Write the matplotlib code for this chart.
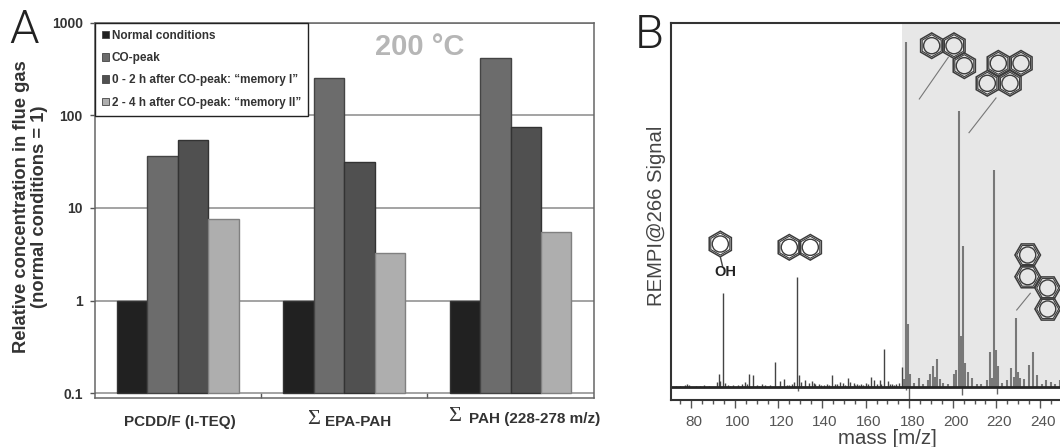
import numpy as np
import matplotlib
matplotlib.use('Agg')
import matplotlib.pyplot as plt
from matplotlib.patches import RegularPolygon, Circle, Patch
from matplotlib.transforms import ScaledTranslation

plt.rcParams['font.family'] = ['Liberation Sans', 'DejaVu Sans']

W, H = 1060, 447

# panel A
categories = ['PCDD/F (I-TEQ)', 'EPA-PAH', 'PAH (228-278 m/z)']
series_names = ['Normal conditions', 'CO-peak',
                '0 - 2 h after CO-peak: \u201cmemory I\u201d',
                '2 - 4 h after CO-peak: \u201cmemory II\u201d']
normal = [1, 1, 1]
co_peak = [36, 250, 420]
memory_1 = [54, 31, 74]
memory_2 = [7.7, 3.3, 5.5]
bar_colors = ['#212121', '#6c6c6c', '#505050', '#aeaeae']
bar_edges = ['#333333', '#444444', '#333333', '#808080']
decades = [0.1, 1, 10, 100, 1000]
decade_labels = ['0.1', '1', '10', '100', '1000']

# panel B, signal is in arbitrary units above the baseline
dark_mz = [73, 75, 77, 78, 79, 82, 84, 86, 88, 91.6, 92.5, 93, 94.6, 95.5, 97, 98, 99, 101.5, 103.5,
           104.6, 105.6, 106.6, 108.5, 110, 111, 112.6, 114, 116, 118.6, 120.5, 122.5, 124, 125, 126,
           127, 128.5, 129.4, 130.5, 132.4, 134, 135.2, 136.4, 137, 138.7, 139.5, 141, 142.5, 143,
           144.6, 146, 147, 148.4, 149.6, 150.5, 151.8, 153, 154.5, 155, 156, 157, 158, 159,
           160, 161, 162.6, 163.7, 165, 166.5, 167, 168.5, 170.3, 171, 172, 173, 174, 175.5, 176.6]
dark_h = [1, 1, 2, 3, 2, 1, 1, 2, 1, 5, 13, 6, 94, 4, 2, 1, 2, 2, 3,
          5, 3, 13, 12, 2, 1, 3, 2, 2, 25, 6, 8, 2, 2, 3,
          5, 110, 12, 5, 7, 4, 6, 4, 3, 3, 2, 2, 3, 2,
          12, 3, 3, 5, 4, 2, 9, 5, 4, 2, 3, 2, 3, 2,
          4, 3, 10, 7, 3, 7, 3, 38, 6, 3, 3, 2, 3, 4, 20]
gray_mz = [177.7, 178.6, 179.5, 180.5, 182, 184.6, 186.5, 188.6, 189.7, 190.8, 191.9, 192.8,
           194.2, 195.5, 198, 200.5, 201.7, 202.8, 203.7, 204.8, 205.8, 206.8, 208.8, 211, 213,
           215.7, 216.9, 218, 218.9, 219.8, 220.9, 222.5, 224.9, 226.9, 228, 228.9, 230, 231,
           232.9, 234.9, 236.9, 238.8, 241, 242.9, 245, 247, 249]
gray_h = [8, 345, 63, 13, 4, 9, 3, 7, 13, 21, 10, 28,
          8, 4, 3, 13, 17, 276, 51, 141, 24, 15, 9, 3, 3,
          7, 35, 9, 217, 37, 21, 4, 7, 19, 10, 69, 15, 9,
          8, 22, 35, 12, 3, 7, 5, 3, 7]
dip_mz = [129, 178.5, 180, 204.3, 220.3]
dip_h = [-4, -3, -12, -8, -7]
mz_major = [80, 100, 120, 140, 160, 180, 200, 220, 240]
mz_minor = np.arange(75, 250, 5)


def px_axes(x0, y0, x1, y1):
    return fig.add_axes([x0 / W, 1 - y1 / H, (x1 - x0) / W, (y1 - y0) / H])


fig = plt.figure(figsize=(W / 100, H / 100), dpi=100)

# A: log bar chart
ax = px_axes(94.6, 22.7, 593.7, 398.3)
ax.set_yscale('log')
ax.set_ylim(0.0883, 1000)
ax.set_xlim(-0.5, 2.5)
ax.set_axisbelow(True)
ax.yaxis.grid(True, which='major', color='#8a8a8a', lw=1.1)
x = np.arange(len(categories))
bw = 0.183
for i, vals in enumerate([normal, co_peak, memory_1, memory_2]):
    ax.bar(x + (i - 1.5) * bw, np.array(vals) - 0.1, bw, bottom=0.1,
           color=bar_colors[i], edgecolor=bar_edges[i], lw=1)
ax.set_yticks(decades)
ax.set_yticklabels(decade_labels, fontsize=10, fontweight='bold', color='#333333')
ax.minorticks_off()
ax.tick_params(axis='y', length=3.5, width=1, color='#555555', pad=5)
ax.set_xticks([0.5, 1.5])
ax.set_xticklabels([])
ax.tick_params(axis='x', direction='in', length=3.5, width=1, color='#555555')
for s in ax.spines.values():
    s.set_color('#666666')
    s.set_linewidth(1.1)
ax.set_ylabel('Relative concentration in flue gas\n(normal conditions = 1)',
              fontsize=13.2, fontweight='bold', color='#333333', linespacing=1.05)
ax.yaxis.set_label_coords(-0.0934, 0.509)

# overlay in pixel coordinates: category labels, panel letters, molecule drawings
ov = fig.add_axes([0, 0, 1, 1], zorder=10)
ov.set_xlim(0, W)
ov.set_ylim(H, 0)
ov.axis('off')
ov.patch.set_alpha(0)
for name, lx, ly in zip(categories, [180, 358, 535], [422, 422, 418.5]):
    ov.text(lx, ly, name, ha='center', va='center', fontsize=11, fontweight='bold', color='#333333')
for sx, sy in [(314, 420), (455, 416.5)]:
    ov.text(sx, sy, '\u03a3', ha='center', va='center', fontsize=16,
            family='Liberation Serif', color='#333333')
ov.text(420, 47, '200 \u00b0C', ha='center', va='center',
        fontsize=21, fontweight='bold', color='#b6b6b6')

handles = [Patch(facecolor=c, edgecolor='#444444', lw=0.6) for c in bar_colors]
leg = ax.legend(handles, series_names, loc='upper left', bbox_to_anchor=(0, 1), borderaxespad=0,
                fancybox=False, framealpha=1, edgecolor='#222222',
                prop={'weight': 'bold', 'size': 8.5},
                handlelength=0.6, handleheight=0.6, handletextpad=0.25,
                labelspacing=0.87, borderpad=0.6)
leg.get_frame().set_linewidth(1)
for t in leg.get_texts():
    t.set_color('#333333')

# B: mass spectrum
ax2 = px_axes(671, 23, 1060, 400)
ax2.set_xlim(70.7, 249.2)
ax2.set_ylim(-13.3, 363.7)
ax2.fill_between([176.8, 249.2], 0, 363.7, color='#e7e7e7', lw=0)
ax2.vlines(dark_mz, 0, dark_h, color='#444444', lw=1)
ax2.vlines(gray_mz, 0, gray_h, color='#787878', lw=1.5)
ax2.vlines(dip_mz, 0, dip_h, color='#666666', lw=1)
ax2.axhline(0, color='#262626', lw=2)
ax2.set_yticks([])
ax2.set_xticks(mz_major)
ax2.set_xticks(mz_minor, minor=True)
ax2.tick_params(axis='x', which='major', length=6, width=1, color='#555555', pad=5,
                labelsize=11, labelcolor='#555555')
ax2.tick_params(axis='x', which='minor', length=3, width=1, color='#555555')
for lbl in ax2.get_xticklabels():
    lbl.set_transform(lbl.get_transform() + ScaledTranslation(0.03, 0, fig.dpi_scale_trans))
ax2.spines['right'].set_visible(False)
for name in ['left', 'top', 'bottom']:
    ax2.spines[name].set_color('#333333')
    ax2.spines[name].set_linewidth(1.5)
ax2.set_xlabel('mass [m/z]', fontsize=14.7, color='#444444')
ax2.xaxis.set_label_coords((887 - 671) / 389, -0.0756)
ax2.set_ylabel('REMPI@266 Signal', fontsize=14.6, color='#444444')
ax2.yaxis.set_label_coords(-0.0135, 0.488)

ov.text(24.5, 30, 'A', fontsize=34, family='Roboto', fontweight=300, color='#222222',
        ha='center', va='center')
ov.text(649, 35, 'B', fontsize=34, family='Roboto', fontweight=300, color='#222222',
        ha='center', va='center')


def ring(cx, cy, r=12.8, flat_top=False):
    rot = np.pi / 6 if flat_top else 0
    for f, lw in [(1.0, 1.1), (0.86, 0.8)]:
        ov.add_patch(RegularPolygon((cx, cy), 6, radius=r * f, orientation=rot, fill=False,
                                    ec='#3c3c3c', lw=lw))
    ov.add_patch(Circle((cx, cy), r * 0.63, fill=False, ec='#3c3c3c', lw=1))


rings_pointy = [(931.7, 45.7), (954, 45.7), (964.3, 65.7),
                (998.3, 63.3), (1021, 63.3), (987.3, 83.3), (1010, 83.3),
                (720.3, 244), (789.3, 247.3), (810.3, 247.3)]
rings_flat = [(1027.7, 255), (1027.7, 276.7), (1047.7, 288), (1047.7, 309)]
for c in rings_pointy:
    ring(c[0], c[1])
for c in rings_flat:
    ring(c[0], c[1], flat_top=True)
leaders = [((919.3, 99), (948.3, 57.3)), ((969, 132.7), (996, 98)), ((1016.7, 310), (1030.3, 293.3))]
for a, b in leaders:
    ov.plot([a[0], b[0]], [a[1], b[1]], color='#777777', lw=0.8)
ov.plot([720.3, 722.5], [256.8, 266], color='#444444', lw=1)
ov.text(725.7, 272.3, 'OH', fontsize=10.5, fontweight='bold', color='#222222', ha='center', va='center')

fig.savefig('out.png', dpi=100)
